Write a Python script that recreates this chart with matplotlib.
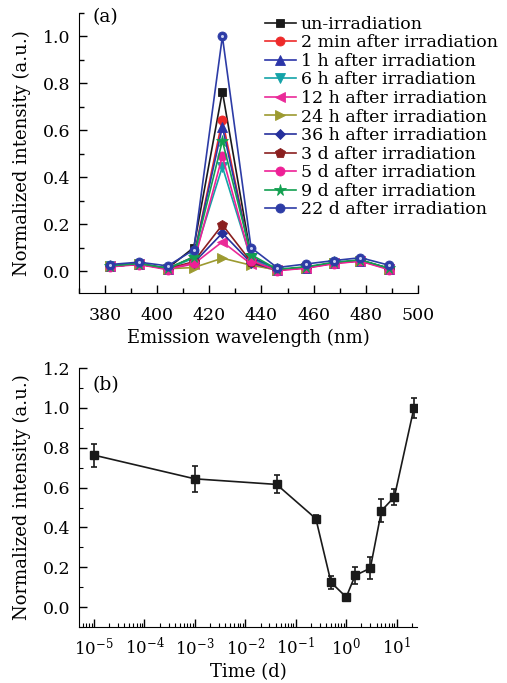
import numpy as np
import matplotlib
matplotlib.use("Agg")
import matplotlib.pyplot as plt
from matplotlib.ticker import MultipleLocator, FixedLocator, NullFormatter, FormatStrFormatter

plt.rcParams["font.family"] = ["DejaVu Serif"]
plt.rcParams["mathtext.fontset"] = "dejavuserif"
plt.rcParams["xtick.direction"] = "in"
plt.rcParams["ytick.direction"] = "in"

# ---- panel (a): emission spectra ----
wavelength = [382, 393, 404, 414, 425, 436, 446, 457, 468, 478, 489]

labels = [
    "un-irradiation",
    "2 min after irradiation",
    "1 h after irradiation",
    "6 h after irradiation",
    "12 h after irradiation",
    "24 h after irradiation",
    "36 h after irradiation",
    "3 d after irradiation",
    "5 d after irradiation",
    "9 d after irradiation",
    "22 d after irradiation",
]

un_irr = [0.022, 0.032, 0.012, 0.100, 0.765, 0.060, 0.005, 0.015, 0.035, 0.045, 0.012]
min_2 = [0.020, 0.030, 0.010, 0.060, 0.645, 0.055, 0.005, 0.015, 0.035, 0.045, 0.010]
h_1 = [0.020, 0.030, 0.010, 0.060, 0.615, 0.060, 0.005, 0.015, 0.035, 0.045, 0.010]
h_6 = [0.020, 0.030, 0.010, 0.055, 0.445, 0.050, 0.005, 0.015, 0.035, 0.045, 0.010]
h_12 = [0.020, 0.030, 0.008, 0.030, 0.125, 0.030, 0.003, 0.013, 0.033, 0.043, 0.008]
h_24 = [0.022, 0.030, 0.010, 0.015, 0.055, 0.025, 0.005, 0.015, 0.035, 0.045, 0.010]
h_36 = [0.020, 0.030, 0.010, 0.035, 0.162, 0.035, 0.005, 0.015, 0.035, 0.045, 0.010]
d_3 = [0.020, 0.030, 0.010, 0.040, 0.197, 0.040, 0.005, 0.015, 0.035, 0.045, 0.010]
d_5 = [0.018, 0.028, 0.006, 0.035, 0.490, 0.045, 0.002, 0.012, 0.032, 0.042, 0.006]
d_9 = [0.022, 0.032, 0.012, 0.060, 0.555, 0.070, 0.008, 0.018, 0.038, 0.048, 0.012]
d_22 = [0.028, 0.038, 0.022, 0.090, 1.000, 0.100, 0.015, 0.030, 0.045, 0.057, 0.025]

series = [un_irr, min_2, h_1, h_6, h_12, h_24, h_36, d_3, d_5, d_9, d_22]

colors = ["#1a1a1a", "#ee2a2a", "#2b35a8", "#14a3a8", "#ea2a98", "#9c9a30",
          "#26309c", "#8a1f1f", "#ee2096", "#12a050", "#2d3ca6"]
markers = ["s", "o", "^", "v", "<", ">", "D", "p", "o", "*", "o"]
msizes = [6, 6.5, 6.5, 6.5, 6.5, 6.5, 5, 7, 6.5, 8.5, 6.5]

# ---- panel (b): peak intensity vs time ----
time_d = [1e-5, 1e-3, 1 / 24, 0.25, 0.5, 1.0, 1.5, 3.0, 5.0, 9.0, 22.0]
peak = [0.763, 0.644, 0.616, 0.444, 0.124, 0.050, 0.159, 0.195, 0.484, 0.553, 1.000]
peak_err = [0.057, 0.065, 0.045, 0.020, 0.033, 0.010, 0.042, 0.055, 0.058, 0.040, 0.050]
decades = [1e-5, 1e-4, 1e-3, 1e-2, 1e-1, 1e0, 1e1]

fig = plt.figure(figsize=(5.07, 6.83), dpi=100)

ax1 = fig.add_axes([0.156, 0.5715, 0.668, 0.4095])
for vals, lab, c, m, ms in zip(series, labels, colors, markers, msizes):
    ax1.plot(wavelength, vals, color=c, marker=m, markersize=ms, linewidth=1.2,
             markeredgewidth=0.6, label=lab)
# highlight on the sphere symbols of the last series
ax1.plot(wavelength, d_22, linestyle="none", marker="o", markersize=2.2,
         color="#c8d0f0", markeredgewidth=0)

ax1.set_xlim(370, 500)
ax1.set_ylim(-0.092, 1.10)
ax1.xaxis.set_major_locator(MultipleLocator(20))
ax1.xaxis.set_minor_locator(MultipleLocator(10))
ax1.yaxis.set_major_locator(MultipleLocator(0.2))
ax1.yaxis.set_minor_locator(MultipleLocator(0.1))
ax1.yaxis.set_major_formatter(FormatStrFormatter("%.1f"))
ax1.spines["top"].set_visible(False)
ax1.spines["right"].set_visible(False)
ax1.tick_params(which="major", length=6, width=1, labelsize=12.5)
ax1.tick_params(which="minor", length=3.5, width=1)
ax1.tick_params(axis="x", which="major", pad=10)
ax1.tick_params(axis="y", which="major", pad=6)
ax1.set_xlabel("Emission wavelength (nm)", fontsize=13, labelpad=4)
ax1.set_ylabel("Normalized intensity (a.u.)", fontsize=13, labelpad=9)
ax1.text(0.04, 0.985, "(a)", transform=ax1.transAxes, fontsize=13.5, va="center")
ax1.legend(loc="upper left", bbox_to_anchor=(0.523, 0.977), bbox_transform=fig.transFigure,
           frameon=False, fontsize=12.5, handlelength=1.75, handletextpad=0.3,
           labelspacing=0.09, borderaxespad=0, borderpad=0)

ax2 = fig.add_axes([0.156, 0.082, 0.666, 0.379])
ax2.errorbar(time_d, peak, yerr=peak_err, color="#1a1a1a", marker="s", markersize=6,
             linewidth=1.2, elinewidth=1.2, capsize=2.5, capthick=1.2)
ax2.set_xscale("log")
ax2.set_xlim(5.06e-6, 25)
ax2.set_ylim(-0.1, 1.2)
ax2.xaxis.set_major_locator(FixedLocator(decades))
minor = [d * k for d in [1e-6] + decades for k in range(2, 10)]
ax2.xaxis.set_minor_locator(FixedLocator(minor))
ax2.xaxis.set_minor_formatter(NullFormatter())
ax2.set_xticklabels([r"$10^{%d}$" % int(np.log10(d)) for d in decades])
ax2.yaxis.set_major_locator(MultipleLocator(0.2))
ax2.yaxis.set_minor_locator(MultipleLocator(0.1))
ax2.yaxis.set_major_formatter(FormatStrFormatter("%.1f"))
ax2.spines["top"].set_visible(False)
ax2.spines["right"].set_visible(False)
ax2.tick_params(which="major", length=6, width=1, labelsize=12.5)
ax2.tick_params(axis="x", which="major", labelsize=12, pad=7)
ax2.tick_params(axis="y", which="major", pad=6)
ax2.tick_params(which="minor", length=3, width=0.8)
ax2.set_xlabel("Time (d)", fontsize=13, labelpad=3)
ax2.set_ylabel("Normalized intensity (a.u.)", fontsize=13, labelpad=9)
ax2.text(0.04, 0.935, "(b)", transform=ax2.transAxes, fontsize=13.5, va="center")

fig.savefig("out.png", dpi=100)
